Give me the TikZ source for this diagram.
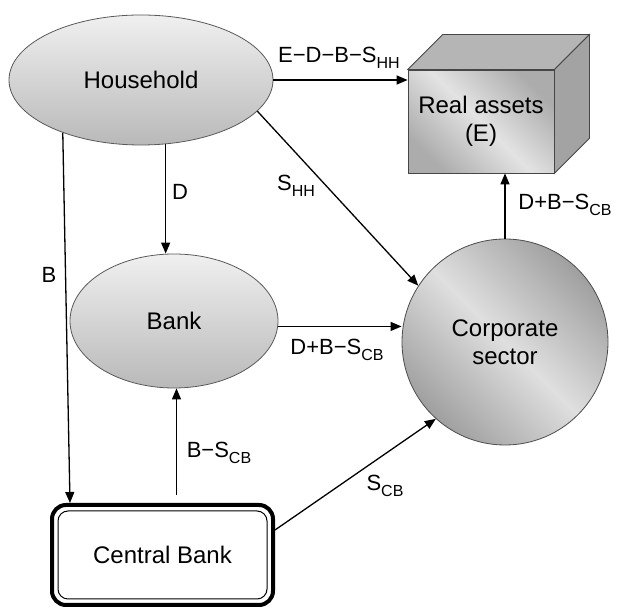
\documentclass[tikz,border=0pt]{standalone}
\usepackage{fontspec}
\setmainfont{Liberation Sans}
\usetikzlibrary{shapes.geometric,arrows.meta}

\newcommand{\lowidx}[1]{\raisebox{-0.55ex}{\fontsize{8}{9}\selectfont #1}}

\begin{document}
\begin{tikzpicture}[x=0.5pt,y=-0.5pt,
    flow/.style={->, >={Triangle[length=5.5pt,width=4.5pt]}, line width=0.65pt},
    lbl/.style={font=\fontsize{11}{13}\selectfont, inner sep=1pt},
    agent/.style={ellipse, draw=gray!70!black, line width=0.4pt,
        top color=gray!12, bottom color=gray!55, font=\fontsize{12}{14}\selectfont}]

    \useasboundingbox (0,0) rectangle (617,608);

    % Agents
    \node[agent, minimum width=132pt, minimum height=65pt] (hh) at (141,80) {Household};
    \node[agent, minimum width=104pt, minimum height=67pt] (bk) at (174,321) {Bank};
    \node[circle, draw=gray!60!black, line width=0.4pt, minimum size=103pt,
        top color=gray!75, bottom color=gray!75, middle color=gray!25, shading angle=-45,
        align=center, font=\fontsize{12}{14}\selectfont] (cs) at (505,342) {Corporate\\sector};

    % Central bank, double frame
    \node[draw, line width=2pt, rounded corners=7pt, minimum width=110.5pt, minimum height=50pt,
        font=\fontsize{12}{14}\selectfont] (cb) at (162.5,555) {Central Bank};
    \draw[line width=0.5pt, rounded corners=5pt] ([shift={(4pt,-4pt)}]cb.north west)
        rectangle ([shift={(-4pt,4pt)}]cb.south east);

    % Real assets box
    \node[draw=gray!55!black, line width=0.4pt, minimum width=73pt, minimum height=51.5pt,
        top color=gray!65, bottom color=gray!65, middle color=gray!22, shading angle=-45,
        align=center, font=\fontsize{12}{14}\selectfont] (ra) at (481,121.5) {Real assets\\(E)};
    \draw[draw=gray!55!black, line width=0.4pt, fill=gray!58] (ra.north west)
        -- ([shift={(17.5pt,17.5pt)}]ra.north west) -- ([shift={(17.5pt,17.5pt)}]ra.north east)
        -- (ra.north east) -- cycle;
    \draw[draw=gray!55!black, line width=0.4pt, fill=gray!72] (ra.north east)
        -- ([shift={(17.5pt,17.5pt)}]ra.north east) -- ([shift={(17.5pt,17.5pt)}]ra.south east)
        -- (ra.south east) -- cycle;

    % Flows
    \draw[flow] (hh.east) -- (hh.east -| ra.west);
    \draw[flow] (hh.-69) -- (hh.-69 |- bk.north);
    \draw[flow] (hh.-15) -- (cs.147);
    \draw[flow] (hh.-146) -- ([xshift=10pt]cb.north west);
    \draw[flow] (bk.-3) -- (bk.-3 -| cs.west);
    \draw[flow, shorten <=4pt] ([xshift=7pt]cb.north) -- ([xshift=7pt]cb.north |- bk.south);
    \draw[flow] ([yshift=12.5pt]cb.east) -- (cs.-132);
    \draw[flow] (cs.north) -- (cs.north |- ra.south);

    % Text
    \node[lbl] (edbs) at (339,58) {E−D−B−S\lowidx{HH}};
    \node[lbl] (d) at (180,192) {D};
    \node[lbl] (shh) at (296,186) {S\lowidx{HH}};
    \node[lbl] (b) at (49,275) {B};
    \node[lbl] (dbsbank) at (337,350) {D+B−S\lowidx{CB}};
    \node[lbl] (bs) at (219,453) {B−S\lowidx{CB}};
    \node[lbl] (scb) at (385,486) {S\lowidx{CB}};
    \node[lbl] (dbsfirm) at (565,205) {D+B−S\lowidx{CB}};

\end{tikzpicture}
\end{document}
